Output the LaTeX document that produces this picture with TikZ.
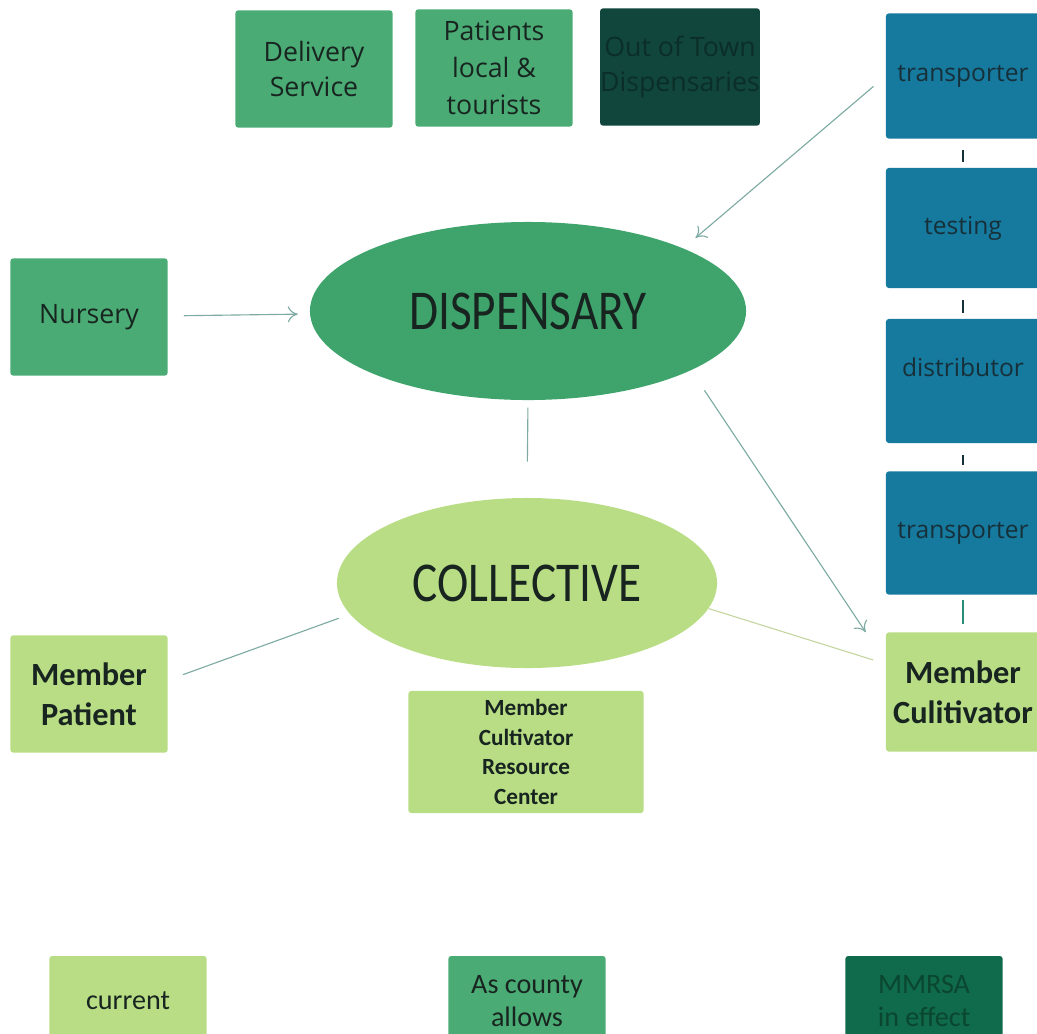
\documentclass[tikz,border=0pt]{standalone}
\usepackage{fontspec}
\setmainfont{Open Sans}
\newfontfamily\calfont{Carlito}
\newfontfamily\ellfont{Carlito}[FakeStretch=0.84]
\usetikzlibrary{shapes.geometric,arrows.meta}
\definecolor{midgreen}{RGB}{74,172,116}
\definecolor{ellgreen}{RGB}{62,164,108}
\definecolor{lightgreen}{RGB}{184,221,132}
\definecolor{bluebox}{RGB}{22,121,158}
\definecolor{darkbox}{RGB}{16,70,60}
\definecolor{darktext}{RGB}{22,48,58}
\definecolor{outtext}{RGB}{12,46,40}
\definecolor{mmrsabox}{RGB}{16,106,76}
\definecolor{mmrsatext}{RGB}{10,70,48}
\definecolor{inktext}{RGB}{24,36,32}
\definecolor{linkgray}{RGB}{125,170,162}
\definecolor{linkkhaki}{RGB}{196,214,160}
\definecolor{ticktl}{RGB}{40,140,120}

\begin{document}
\begin{tikzpicture}[x=0.025cm, y=-0.025cm,
    box/.style={rectangle, rounded corners=2pt, inner sep=0pt, align=center,
      minimum width=3.93cm, minimum height=2.93cm, text=inktext,
      font=\fontsize{19}{25}\selectfont},
    chainbox/.style={box, fill=bluebox, minimum width=3.85cm, text=darktext,
      font=\fontsize{17.5}{22}\selectfont},
    memberbox/.style={box, fill=lightgreen, font=\calfont\bfseries\fontsize{23}{28.5}\selectfont},
    keybox/.style={box, minimum height=2.25cm, font=\calfont\fontsize{20}{23.5}\selectfont},
    blob/.style={ellipse, inner sep=0pt, text=inktext, font=\ellfont\fontsize{40}{40}\selectfont},
    link/.style={draw=linkgray, line width=0.8pt},
    arr/.style={-{To[length=0.25cm, width=0.4cm]}},
    tick/.style={draw=darktext, line width=0.8pt, shorten <=0.28cm, shorten >=0.15cm}]
  \useasboundingbox (0,0) rectangle (1037,1033);
  \clip (0,0) rectangle (1037,1033);

  % top row
  \node [box, fill=midgreen] (delivery) at (314,69) {Delivery\\Service};
  \node [box, fill=midgreen, font=\fontsize{19}{26.5}\selectfont] (patients) at (494,68) {Patients\\local \&\\tourists};
  \node [box, fill=darkbox, text=outtext] (outoftown) at (680,67) {Out of Town\\Dispensaries};

  % supply chain on the right
  \node [chainbox, minimum height=3.13cm] (transporterA) at (963,76) {transporter};
  \node [chainbox, minimum height=3.0cm] (testing) at (963,228) {testing};
  \node [chainbox, minimum height=3.1cm] (distributor) at (963,381) {\raisebox{0.7cm}{distributor}};
  \node [chainbox, minimum height=3.08cm] (transporterB) at (963,533) {transporter};
  \node [memberbox, minimum width=3.85cm, minimum height=2.98cm] (cultivator) at (963,692) {Member\\Culitivator};

  % middle
  \node [box, fill=midgreen] (nursery) at (89,317) {Nursery};
  \node [blob, fill=ellgreen, minimum width=10.9cm, minimum height=4.45cm] (dispensary) at (528,311) {DISPENSARY};
  \node [blob, fill=lightgreen, minimum width=9.5cm, minimum height=4.25cm] (collective) at (527,583) {COLLECTIVE};
  \node [memberbox] (patient) at (89,694) {Member\\Patient};
  \node [box, fill=lightgreen, minimum width=5.88cm, minimum height=3.05cm,
    font=\calfont\bfseries\fontsize{16.5}{21}\selectfont] (resource) at (526,752) {Member\\Cultivator\\Resource\\Center};

  % key
  \node [keybox, fill=lightgreen] (current) at (128,1001) {current};
  \node [keybox, fill=midgreen] (county) at (527,1001) {As county\\allows};
  \node [keybox, fill=mmrsabox, text=mmrsatext] (mmrsa) at (924,1001) {MMRSA\\in effect};

  % connectors
  \draw [link, arr, shorten <=0.4cm, shorten >=0.3cm] (nursery) -- (dispensary);
  \draw [link, arr, shorten <=0.4cm, shorten >=0.4cm] (transporterA.west) -- (dispensary.22);
  \draw [link, arr, shorten <=0.6cm] (dispensary.-20) -- ([xshift=-0.5cm]cultivator.north west);
  \draw [link, shorten <=0.18cm, shorten >=0.9cm] (dispensary.south) -- (collective.north);
  \draw [link, shorten <=0.3cm, shorten >=0.4cm] (collective.190) -- (patient.10);
  \draw [link, draw=linkkhaki, shorten >=0.33cm] (collective.-8) -- (cultivator.160);

  \draw [tick] (transporterA.south) -- (testing.north);
  \draw [tick] (testing.south) -- (distributor.north);
  \draw [tick] (distributor.south) -- (transporterB.north);
  \draw [tick, draw=ticktl, shorten <=0.12cm, shorten >=0.2cm] (transporterB.south) -- (cultivator.north);
\end{tikzpicture}
\end{document}
